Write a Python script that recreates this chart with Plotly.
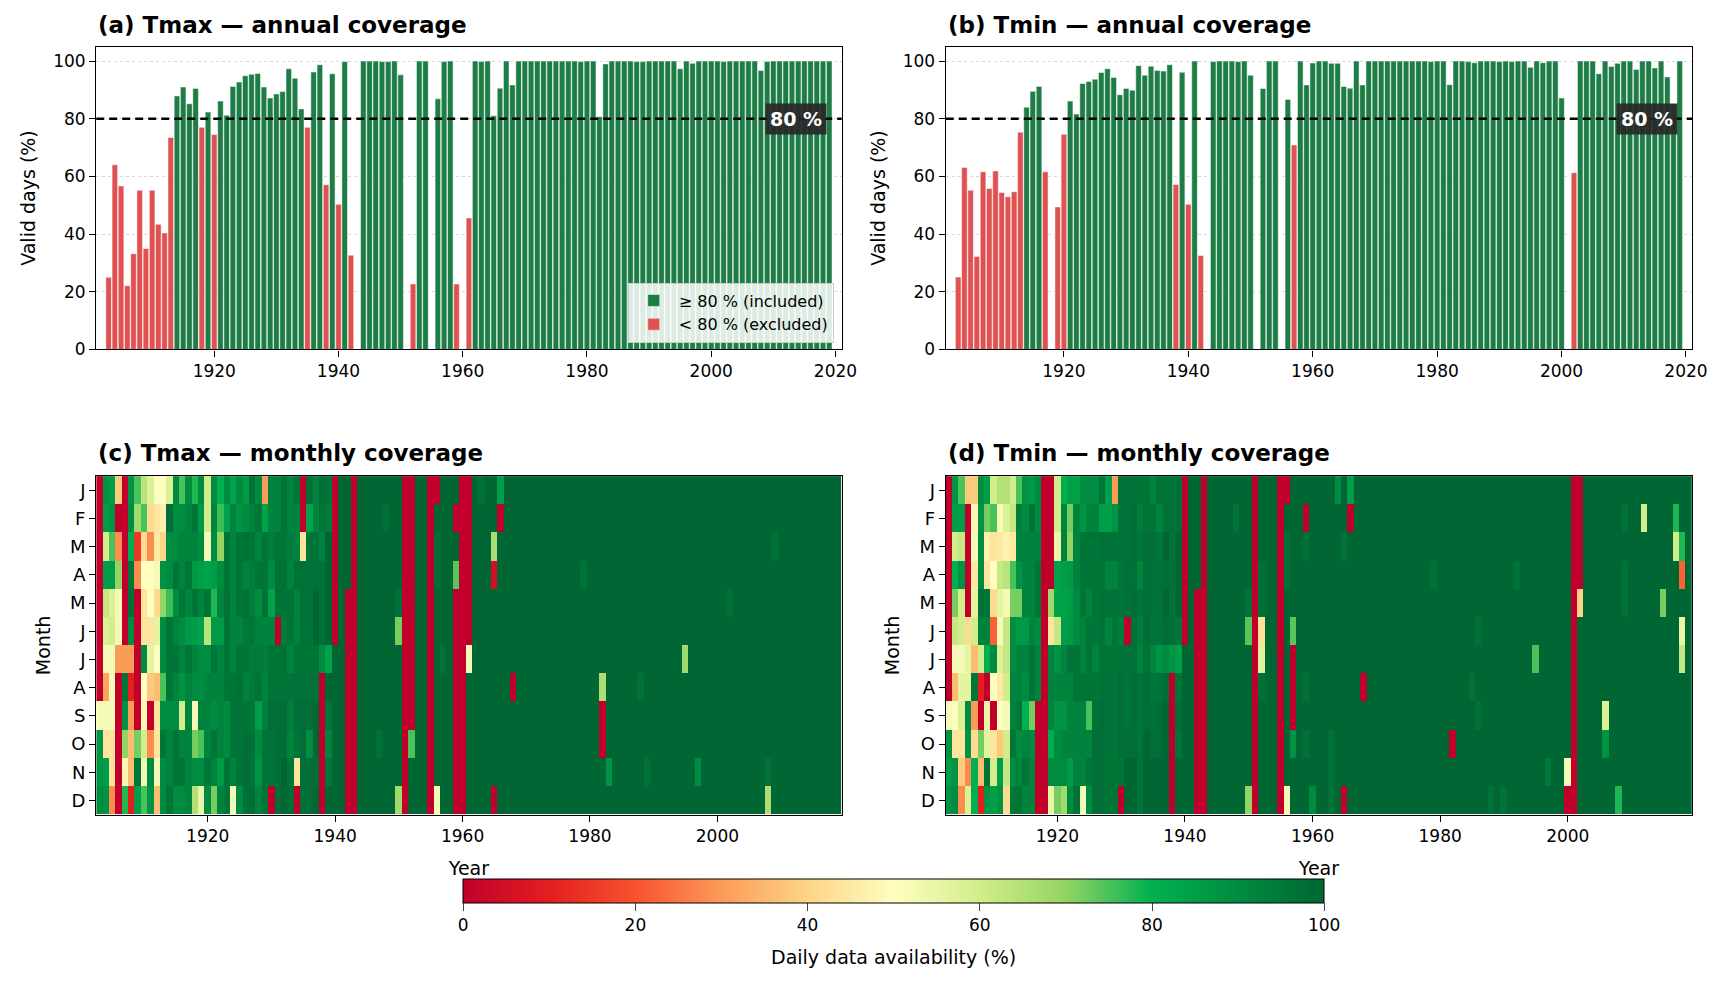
import plotly.graph_objects as go

# ---- data -------------------------------------------------------------
years = list(range(1903, 2020))
month_labels = ["J", "F", "M", "A", "M", "J", "J", "A", "S", "O", "N", "D"]
THRESHOLD = 80

# annual share of valid days (%), 1903-2019
tmax_annual = [
    25.0, 64.0, 56.7, 22.1, 33.2, 55.2, 35.0, 55.2, 43.4, 40.4,
    73.5, 87.9, 91.0, 85.2, 90.5, 77.0, 82.3, 74.5, 86.1, 81.2,
    91.2, 92.7, 94.9, 95.4, 95.7, 91.0, 87.2, 88.6, 89.4, 97.3,
    94.0, 83.4, 77.0, 96.2, 98.7, 57.1, 95.6, 50.3, 99.8, 32.7,
    0.0, 100, 100, 100, 99.8, 99.8, 100, 95.2, 0.0, 22.7,
    100, 100, 0.0, 86.9, 99.8, 100, 22.7, 0.0, 45.6, 100,
    99.8, 100, 81.0, 90.6, 100, 91.7, 100, 100, 100, 100,
    100, 100, 100, 100, 100, 100, 99.8, 100, 100, 80.7,
    99.0, 100, 100, 100, 100, 99.8, 99.8, 100, 100, 100,
    100, 100, 97.3, 100, 99.2, 100, 100, 100, 100, 99.8,
    100, 100, 100, 100, 100, 96.7, 99.8, 100, 100, 100,
    100, 100, 100, 100, 100, 100, 100,
]
tmin_annual = [
    25.1, 63.1, 55.2, 32.2, 61.6, 55.8, 61.9, 54.4, 52.9, 54.7,
    75.3, 84.0, 89.5, 91.2, 61.6, 0.0, 49.4, 74.6, 86.1, 81.6,
    92.2, 92.9, 93.7, 96.0, 97.3, 94.3, 88.3, 90.5, 89.9, 98.4,
    95.1, 98.2, 96.7, 96.5, 98.7, 57.2, 96.1, 50.3, 100, 32.6,
    0.0, 99.8, 100, 100, 100, 99.8, 100, 95.1, 0.0, 90.5,
    100, 100, 0.0, 86.7, 70.9, 100, 91.7, 99.3, 100, 100,
    99.2, 99.2, 91.2, 90.6, 100, 91.7, 100, 100, 100, 100,
    100, 100, 100, 100, 100, 100, 99.8, 100, 100, 91.8,
    100, 100, 99.8, 99.4, 100, 100, 100, 99.8, 100, 99.8,
    100, 100, 97.8, 100, 99.4, 100, 100, 87.2, 0.0, 61.3,
    100, 100, 100, 95.6, 100, 98.1, 99.2, 100, 100, 97.1,
    100, 100, 97.6, 100, 94.5, 85.0, 100,
]

# monthly availability (%), one row per month, years 1903-1946
tmax_monthly_early = [
    [0, 88, 85, 38, 0, 88, 75, 64, 58, 50, 50, 58, 90, 75, 90, 78, 90, 60, 90, 80, 90, 84,
     90, 86, 97, 90, 30, 92, 92, 96, 92, 96, 0, 98, 93, 98, 96, 0, 100, 100, 0, 100, 100, 100],
    [0, 85, 88, 0, 0, 90, 68, 75, 42, 44, 47, 98, 90, 90, 92, 96, 86, 60, 92, 76, 84, 92,
     88, 90, 92, 96, 84, 92, 92, 96, 92, 92, 0, 84, 92, 96, 94, 0, 100, 100, 0, 100, 100, 100],
    [0, 60, 75, 28, 0, 80, 15, 42, 28, 45, 40, 90, 90, 92, 92, 92, 90, 52, 90, 70, 96, 92,
     96, 97, 96, 92, 96, 94, 96, 96, 94, 92, 44, 96, 96, 93, 100, 0, 100, 100, 0, 100, 100, 100],
    [0, 85, 85, 70, 0, 96, 28, 50, 50, 52, 88, 90, 96, 92, 96, 86, 85, 84, 85, 90, 96, 92,
     96, 93, 94, 96, 96, 90, 97, 97, 92, 97, 97, 97, 97, 97, 100, 0, 100, 100, 0, 100, 100, 100],
    [0, 62, 58, 52, 0, 97, 0, 44, 50, 42, 70, 76, 90, 96, 92, 96, 92, 96, 78, 92, 97, 92,
     96, 97, 94, 90, 97, 84, 97, 96, 97, 92, 97, 97, 100, 97, 100, 0, 100, 0, 0, 100, 100, 100],
    [0, 58, 60, 52, 0, 90, 0, 44, 44, 56, 90, 96, 92, 90, 86, 85, 84, 64, 86, 86, 96, 92,
     92, 95, 96, 92, 92, 92, 0, 94, 96, 92, 97, 96, 100, 97, 100, 0, 100, 0, 0, 100, 100, 100],
    [0, 52, 52, 30, 30, 30, 0, 90, 56, 50, 90, 96, 96, 92, 96, 92, 90, 90, 96, 92, 96, 92,
     96, 96, 94, 95, 94, 96, 96, 97, 92, 96, 96, 96, 96, 90, 84, 100, 100, 0, 0, 100, 100, 100],
    [0, 32, 52, 0, 96, 10, 0, 50, 38, 36, 75, 96, 92, 88, 92, 90, 90, 92, 92, 92, 96, 96,
     97, 93, 95, 96, 92, 96, 96, 96, 96, 97, 97, 97, 97, 0, 100, 100, 100, 0, 0, 100, 100, 100],
    [52, 52, 52, 0, 88, 30, 0, 52, 0, 44, 90, 90, 90, 60, 92, 52, 92, 92, 90, 92, 90, 96,
     96, 96, 96, 85, 94, 98, 98, 98, 94, 98, 98, 98, 100, 0, 96, 100, 100, 0, 0, 100, 100, 100],
    [88, 44, 44, 0, 70, 36, 72, 60, 28, 44, 96, 92, 96, 92, 92, 72, 75, 92, 96, 92, 90, 96,
     96, 98, 97, 90, 96, 96, 98, 98, 92, 96, 98, 90, 100, 0, 92, 100, 100, 0, 0, 100, 100, 100],
    [88, 85, 44, 0, 48, 36, 96, 52, 90, 52, 90, 92, 96, 96, 92, 90, 90, 96, 92, 86, 96, 92,
     96, 98, 96, 88, 96, 96, 98, 100, 96, 44, 98, 98, 98, 0, 96, 100, 100, 0, 0, 100, 100, 100],
    [90, 88, 28, 0, 78, 10, 85, 75, 88, 36, 90, 96, 90, 90, 92, 65, 55, 90, 72, 92, 96, 52,
     90, 97, 98, 92, 96, 0, 98, 100, 98, 0, 98, 98, 100, 0, 100, 100, 100, 0, 0, 100, 100, 100],
]
tmin_monthly_early = [
    [0, 88, 75, 38, 38, 90, 85, 60, 65, 65, 60, 75, 88, 86, 90, 0, 0, 60, 80, 85, 84, 90,
     90, 90, 96, 85, 30, 97, 97, 97, 97, 96, 92, 97, 97, 96, 97, 0, 100, 100, 0, 100, 100, 100],
    [0, 85, 85, 0, 48, 88, 72, 75, 52, 58, 62, 94, 90, 96, 90, 0, 0, 60, 92, 72, 92, 88,
     92, 92, 85, 85, 88, 97, 97, 98, 94, 96, 96, 92, 97, 97, 97, 0, 100, 100, 0, 100, 100, 100],
    [0, 60, 62, 0, 52, 90, 47, 44, 45, 47, 45, 92, 92, 92, 92, 0, 0, 54, 92, 70, 92, 96,
     96, 96, 97, 97, 97, 97, 97, 98, 96, 98, 98, 96, 100, 97, 100, 0, 100, 100, 0, 100, 100, 100],
    [0, 80, 88, 0, 45, 90, 44, 50, 62, 64, 75, 88, 92, 92, 96, 0, 0, 84, 85, 86, 92, 96,
     96, 96, 96, 92, 92, 96, 97, 97, 92, 98, 97, 97, 98, 97, 100, 0, 100, 100, 0, 100, 100, 100],
    [0, 72, 60, 0, 56, 97, 96, 42, 56, 52, 72, 72, 92, 92, 96, 0, 68, 84, 84, 85, 90, 96,
     92, 96, 97, 96, 97, 96, 97, 98, 96, 98, 97, 97, 100, 97, 100, 0, 100, 0, 0, 100, 100, 100],
    [0, 62, 60, 42, 60, 92, 92, 22, 52, 62, 90, 86, 86, 92, 90, 0, 44, 62, 85, 86, 90, 92,
     96, 96, 97, 92, 96, 94, 0, 97, 94, 98, 96, 96, 98, 98, 96, 0, 100, 0, 0, 100, 100, 100],
    [0, 52, 52, 56, 36, 60, 80, 90, 58, 62, 90, 92, 92, 96, 92, 0, 92, 88, 92, 96, 96, 92,
     96, 92, 96, 96, 96, 97, 97, 97, 92, 97, 92, 88, 90, 88, 85, 100, 100, 0, 0, 100, 100, 100],
    [0, 36, 56, 56, 96, 10, 0, 50, 45, 60, 92, 92, 90, 96, 92, 0, 92, 92, 92, 92, 96, 96,
     96, 96, 97, 97, 96, 98, 96, 98, 96, 98, 96, 96, 98, 0, 96, 100, 100, 0, 0, 100, 100, 100],
    [52, 50, 58, 90, 30, 0, 54, 0, 50, 52, 92, 96, 80, 72, 0, 0, 92, 88, 88, 92, 92, 92,
     75, 97, 98, 96, 96, 98, 96, 98, 96, 98, 97, 98, 100, 0, 98, 100, 100, 0, 0, 100, 100, 100],
    [88, 44, 44, 88, 42, 72, 56, 44, 38, 60, 96, 90, 92, 90, 0, 0, 80, 90, 92, 92, 92, 92,
     92, 98, 98, 96, 96, 98, 98, 98, 96, 100, 98, 98, 100, 0, 96, 100, 100, 0, 0, 100, 100, 100],
    [85, 88, 38, 28, 80, 36, 96, 60, 85, 62, 90, 92, 96, 92, 0, 0, 90, 90, 90, 86, 92, 92,
     96, 98, 98, 96, 96, 96, 100, 100, 97, 100, 100, 100, 100, 0, 100, 100, 100, 0, 0, 100, 100, 100],
    [88, 90, 28, 58, 80, 10, 88, 85, 88, 42, 96, 96, 92, 92, 0, 0, 55, 72, 68, 90, 96, 52,
     90, 98, 98, 96, 96, 0, 100, 100, 96, 100, 100, 100, 100, 0, 100, 100, 100, 0, 0, 100, 100, 100],
]

# 1947-2019: complete years are 100 in every month; only the others are listed
FULL_YEAR = [100] * 12
tmax_monthly_late = {
    1947: [100, 100, 100, 100, 100, 100, 100, 100, 100, 97, 100, 100],
    1948: [100, 97, 100, 100, 100, 100, 100, 100, 100, 100, 100, 100],
    1950: [100, 100, 100, 100, 97, 72, 100, 100, 100, 100, 100, 68],
    1951: [0, 0, 0, 0, 0, 0, 0, 0, 0, 0, 0, 0],
    1952: [0, 0, 0, 0, 0, 0, 0, 0, 0, 75, 100, 100],
    1955: [0, 0, 0, 0, 0, 0, 0, 0, 0, 0, 0, 0],
    1956: [0, 100, 97, 97, 100, 100, 100, 100, 100, 100, 100, 52],
    1957: [100, 100, 100, 100, 100, 100, 97, 100, 100, 100, 100, 100],
    1959: [100, 0, 100, 74, 0, 0, 0, 0, 0, 0, 0, 0],
    1960: [0, 0, 0, 0, 0, 0, 0, 0, 0, 0, 0, 0],
    1961: [0, 0, 0, 0, 0, 0, 52, 100, 100, 100, 100, 100],
    1963: [97, 100, 100, 100, 100, 100, 100, 100, 100, 100, 100, 100],
    1965: [100, 100, 66, 5, 100, 100, 100, 100, 100, 100, 100, 0],
    1966: [85, 0, 100, 100, 100, 100, 100, 100, 100, 100, 100, 100],
    1968: [100, 100, 100, 100, 100, 100, 100, 0, 100, 100, 100, 100],
    1979: [100, 100, 100, 97, 100, 100, 100, 100, 100, 100, 100, 100],
    1982: [100, 100, 100, 100, 100, 100, 100, 66, 0, 0, 100, 100],
    1983: [100, 100, 100, 100, 100, 100, 100, 100, 100, 100, 88, 100],
    1988: [100, 100, 100, 100, 100, 100, 100, 97, 100, 100, 100, 100],
    1989: [100, 100, 100, 100, 100, 100, 100, 100, 100, 100, 97, 100],
    1995: [100, 100, 100, 100, 100, 100, 68, 100, 100, 100, 100, 100],
    1997: [100, 100, 100, 100, 100, 100, 100, 100, 100, 100, 90, 100],
    2002: [100, 100, 100, 100, 97, 100, 100, 100, 100, 100, 100, 100],
    2008: [100, 100, 100, 100, 100, 100, 100, 100, 100, 100, 97, 66],
    2009: [100, 100, 97, 100, 100, 100, 100, 100, 100, 100, 100, 100],
}
tmin_monthly_late = {
    1948: [100, 97, 100, 100, 100, 100, 100, 100, 100, 100, 100, 100],
    1950: [100, 100, 100, 100, 97, 74, 100, 100, 100, 100, 100, 70],
    1951: [0, 0, 0, 0, 0, 0, 0, 0, 0, 0, 0, 0],
    1952: [100, 100, 100, 97, 97, 43, 57, 97, 100, 100, 100, 100],
    1955: [0, 0, 0, 0, 0, 0, 0, 0, 0, 0, 0, 0],
    1956: [0, 100, 97, 97, 100, 100, 100, 100, 100, 100, 100, 52],
    1957: [100, 100, 100, 100, 100, 74, 0, 0, 0, 88, 100, 100],
    1959: [100, 0, 97, 100, 100, 100, 100, 97, 100, 97, 100, 100],
    1960: [100, 100, 100, 100, 100, 100, 100, 100, 100, 100, 100, 90],
    1963: [100, 100, 100, 100, 100, 100, 100, 100, 100, 97, 97, 97],
    1964: [90, 100, 100, 100, 100, 100, 100, 100, 100, 100, 100, 100],
    1965: [100, 100, 97, 100, 100, 100, 100, 100, 100, 100, 100, 0],
    1966: [85, 0, 100, 100, 100, 100, 100, 100, 100, 100, 100, 100],
    1968: [100, 100, 100, 100, 100, 100, 100, 0, 100, 100, 100, 100],
    1979: [100, 100, 100, 97, 100, 100, 100, 100, 100, 100, 100, 100],
    1982: [100, 100, 100, 100, 100, 100, 100, 100, 100, 0, 100, 100],
    1985: [100, 100, 100, 100, 100, 100, 100, 97, 100, 100, 100, 100],
    1986: [100, 100, 100, 100, 100, 97, 100, 100, 97, 100, 100, 100],
    1988: [100, 100, 100, 100, 100, 100, 100, 100, 100, 100, 100, 97],
    1990: [100, 100, 100, 100, 100, 100, 100, 100, 100, 100, 100, 97],
    1992: [100, 100, 100, 97, 100, 100, 100, 100, 100, 100, 100, 100],
    1995: [100, 100, 100, 100, 100, 100, 75, 100, 100, 100, 100, 100],
    1997: [100, 100, 100, 100, 100, 100, 100, 100, 100, 100, 95, 100],
    2000: [100, 100, 100, 100, 100, 100, 100, 100, 100, 100, 52, 0],
    2001: [0, 0, 0, 0, 0, 0, 0, 0, 0, 0, 0, 0],
    2002: [0, 0, 0, 0, 40, 100, 100, 100, 100, 100, 100, 100],
    2006: [100, 100, 100, 100, 100, 100, 100, 100, 58, 88, 100, 100],
    2008: [100, 100, 100, 100, 100, 100, 100, 100, 100, 100, 100, 78],
    2009: [100, 97, 100, 97, 97, 100, 100, 100, 100, 100, 100, 100],
    2012: [100, 60, 100, 100, 100, 100, 100, 100, 100, 100, 100, 100],
    2015: [100, 100, 100, 100, 72, 100, 100, 100, 100, 100, 100, 100],
    2017: [100, 78, 60, 100, 100, 100, 100, 100, 100, 100, 100, 100],
    2018: [100, 100, 78, 22, 100, 55, 62, 100, 100, 100, 100, 100],
}


def monthly_matrix(early, late):
    n_early = len(early[0])
    z = []
    for m in range(12):
        row = list(early[m])
        for yr in years[n_early:]:
            row.append(late.get(yr, FULL_YEAR)[m])
        z.append(row)
    return z


# ---- page geometry ----------------------------------------------------
# the html body keeps its default 8px margin, so the figure is 16px smaller
# than the window and all positions below are window pixels
PAGE_MARGIN = 8
W, H = 1735 - 2 * PAGE_MARGIN, 986 - 2 * PAGE_MARGIN


def px(x):
    return (x - PAGE_MARGIN) / W


def py(y):
    return 1 - (y - PAGE_MARGIN) / H


left_x = [px(97), px(849)]
right_x = [px(954), px(1707)]
top_y = [py(353), py(47)]
bot_y = [py(823), py(481)]

# ---- styling ----------------------------------------------------------
GREEN = "#1e7d46"
RED = "#e05252"
cscale = [
    [0.0, "#c0002a"], [0.1, "#e41e1f"], [0.2, "#f8522f"], [0.3, "#fb9b58"],
    [0.4, "#fdd485"], [0.5, "#fefec0"], [0.6, "#d3ed8c"], [0.7, "#93d464"],
    [0.8, "#00b050"], [0.9, "#008c40"], [1.0, "#006633"],
]

axis_style = dict(showline=True, linecolor="black", linewidth=1.3, mirror=True,
                  ticks="outside", ticklen=6, tickwidth=1.2, tickcolor="black",
                  zeroline=False, tickfont=dict(size=17))

fig = go.Figure()

panels = [("x", "y", tmax_annual, True), ("x2", "y2", tmin_annual, False)]
for xa, ya, vals, show in panels:
    inc = [v if v >= THRESHOLD else None for v in vals]
    exc = [v if v < THRESHOLD else None for v in vals]
    fig.add_trace(go.Bar(x=years, y=inc, width=0.9, marker_color=GREEN,
                         marker_line=dict(color="white", width=0.5),
                         name="≥ 80 % (included)", showlegend=show,
                         xaxis=xa, yaxis=ya))
    fig.add_trace(go.Bar(x=years, y=exc, width=0.9, marker_color=RED,
                         marker_line=dict(color="white", width=0.5),
                         name="< 80 % (excluded)", showlegend=show,
                         xaxis=xa, yaxis=ya))

fig.add_trace(go.Heatmap(x=years, y=list(range(12)),
                         z=monthly_matrix(tmax_monthly_early, tmax_monthly_late),
                         coloraxis="coloraxis", xaxis="x3", yaxis="y3"))
fig.add_trace(go.Heatmap(x=years, y=list(range(12)),
                         z=monthly_matrix(tmin_monthly_early, tmin_monthly_late),
                         coloraxis="coloraxis", xaxis="x4", yaxis="y4"))

bar_x = dict(axis_style, range=[1901, 2021], tickvals=[1920, 1940, 1960, 1980, 2000, 2020])
bar_y = dict(axis_style, range=[0, 105], tickvals=[0, 20, 40, 60, 80, 100],
             showgrid=True, gridcolor="#d8d8d8", griddash="dot", gridwidth=1,
             title=dict(text="Valid days (%)", font=dict(size=19), standoff=12))
hm_x = dict(axis_style, range=[1902.5, 2019.5], tickvals=[1920, 1940, 1960, 1980, 2000],
            showgrid=False, title=dict(text="Year", font=dict(size=19), standoff=16))
hm_y = dict(axis_style, range=[11.5, -0.5], tickvals=list(range(12)), ticktext=month_labels,
            showgrid=False, tickfont=dict(size=18),
            title=dict(text="Month", font=dict(size=19), standoff=14))

fig.update_layout(
    width=W, height=H,
    margin=dict(l=0, r=0, t=0, b=0),
    paper_bgcolor="white", plot_bgcolor="white",
    font=dict(family="DejaVu Sans", size=17, color="black"),
    barmode="overlay",
    xaxis=dict(bar_x, domain=left_x, anchor="y"),
    yaxis=dict(bar_y, domain=top_y, anchor="x"),
    xaxis2=dict(bar_x, domain=right_x, anchor="y2"),
    yaxis2=dict(bar_y, domain=top_y, anchor="x2"),
    xaxis3=dict(hm_x, domain=left_x, anchor="y3"),
    yaxis3=dict(hm_y, domain=bot_y, anchor="x3"),
    xaxis4=dict(hm_x, domain=right_x, anchor="y4"),
    yaxis4=dict(hm_y, domain=bot_y, anchor="x4"),
    coloraxis=dict(
        colorscale=cscale, cmin=0, cmax=100,
        colorbar=dict(orientation="h", x=px(901.5), xanchor="center", y=py(888), yanchor="top",
                      len=(1336 - 467) / W, lenmode="fraction", thickness=24,
                      thicknessmode="pixels", outlinecolor="black", outlinewidth=1,
                      ticks="outside", ticklen=8, tickvals=[0, 20, 40, 60, 80, 100],
                      tickfont=dict(size=17), xpad=0, ypad=0),
    ),
    legend=dict(x=px(841), xanchor="right", y=py(346), yanchor="bottom",
                bgcolor="rgba(255,255,255,0.85)", bordercolor="#cccccc", borderwidth=1,
                font=dict(size=16), itemwidth=40),
)

# colorbar label
fig.add_annotation(xref="paper", yref="paper", x=px(901.5), y=py(967), xanchor="center",
                   yanchor="middle", showarrow=False, text="Daily data availability (%)",
                   font=dict(size=19))

# 80 % threshold line and label
for xa, ya in [("x", "y"), ("x2", "y2")]:
    fig.add_shape(type="line", xref=f"{xa} domain", yref=ya, x0=0, x1=1,
                  y0=THRESHOLD, y1=THRESHOLD,
                  line=dict(color="black", width=2.5, dash="8px,5px"))
    fig.add_annotation(xref=f"{xa} domain", yref=ya, x=0.981, y=THRESHOLD,
                       xanchor="right", yanchor="middle", showarrow=False,
                       text="<b>80 %</b>", font=dict(color="white", size=19),
                       bgcolor="rgba(40,40,40,0.92)", borderpad=4)

titles = [
    ("(a) Tmax — annual coverage", left_x[0], py(25)),
    ("(b) Tmin — annual coverage", right_x[0], py(25)),
    ("(c) Tmax — monthly coverage", left_x[0], py(458)),
    ("(d) Tmin — monthly coverage", right_x[0], py(458)),
]
for txt, x, y in titles:
    fig.add_annotation(xref="paper", yref="paper", x=x, y=y, xanchor="left",
                       yanchor="middle", showarrow=False, text=f"<b>{txt}</b>",
                       font=dict(size=23))

fig.write_html("out.html")
